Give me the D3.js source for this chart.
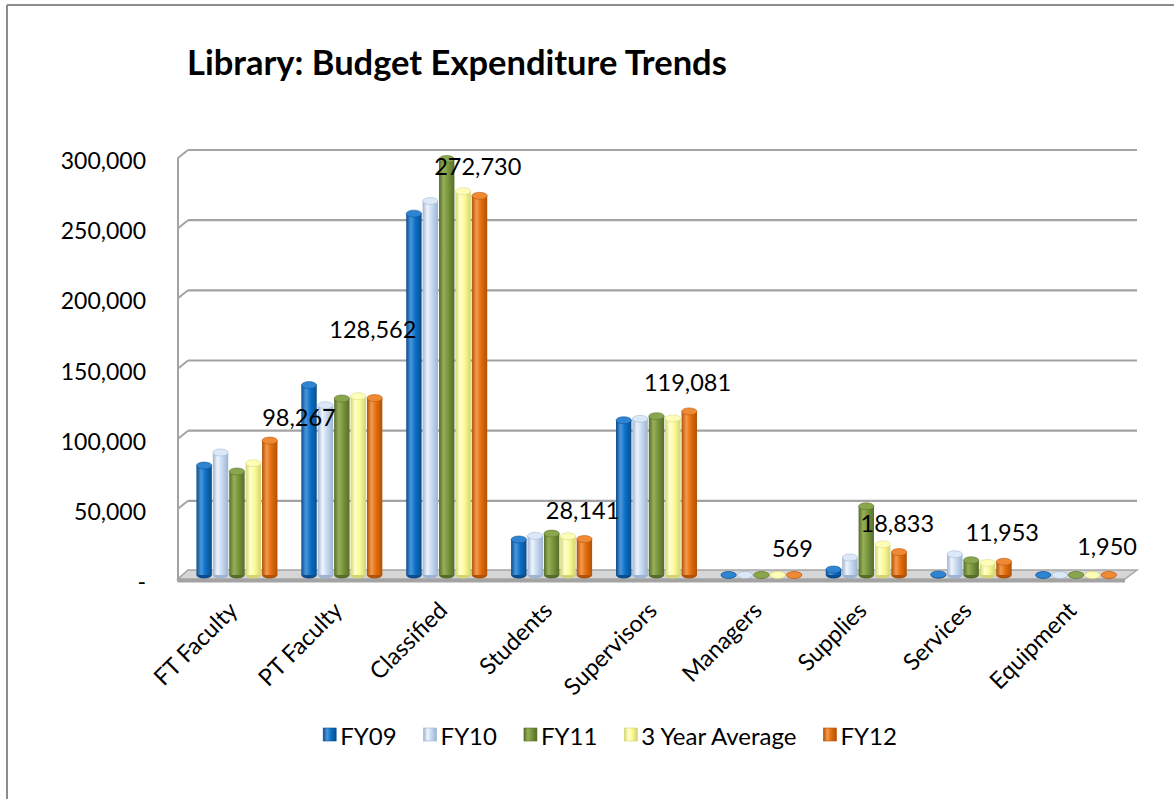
<!DOCTYPE html>
<html>
<head>
<meta charset="utf-8">
<script src="https://cdn.jsdelivr.net/npm/d3@7"></script>
<style>
  html, body { margin: 0; padding: 0; background: #ffffff; }
  svg { display: block; }
  text { font-family: Lato, "Open Sans", sans-serif; fill: #000; }
</style>
</head>
<body>
<div id="chart"></div>
<script>
// ---------------- data ----------------
const categories = ["FT Faculty", "PT Faculty", "Classified", "Students", "Supervisors",
                    "Managers", "Supplies", "Services", "Equipment"];
const seriesNames = ["FY09", "FY10", "FY11", "3 Year Average", "FY12"];
const fy09 = [80500, 137800, 260000, 27800, 112800, 400, 6400, 2900, 300];
const fy10 = [89800, 123500, 269000, 30400, 113800, 300, 15000, 17300, 200];
const fy11 = [76300, 128300, 299000, 32000, 115700, 200, 51500, 13000, 400];
const avg3 = [82200, 129900, 276000, 30100, 114100, 300, 24300, 11100, 300];
const fy12 = [98267, 128562, 272730, 28141, 119081, 569, 18833, 11953, 1950];
const yTicks = [0, 50000, 100000, 150000, 200000, 250000, 300000];
const titleText = "Library: Budget Expenditure Trends";
// data labels show the FY12 value of each category
const labelValues = fy12;

// ---------------- styling ----------------
const seriesColors = [
  {base: "#0b6fc6", dark: "#0a4d8c", light: "#4a97db", cap: "#2f84d2"},
  {base: "#c6d9f1", dark: "#9db3cf", light: "#eef4fc", cap: "#dce8f7"},
  {base: "#78943c", dark: "#566d29", light: "#96b058", cap: "#8aa64c"},
  {base: "#fafa96", dark: "#d4d474", light: "#ffffcc", cap: "#fdfdb8"},
  {base: "#e46c0a", dark: "#b05207", light: "#f39a4e", cap: "#ef8a34"}
];
const labelNudge = {"FT Faculty": [31, 6], "PT Faculty": [0, -40]};

const W = 1174, H = 799;
const seriesValues = [fy09, fy10, fy11, avg3, fy12];

const svg = d3.select("#chart").append("svg").attr("width", W).attr("height", H);
const defs = svg.append("defs");

// scales
const yBack = d3.scaleLinear().domain([0, 300000]).range([571, 150]);
const depthFront = 8, depthMid = 4, sideShift = 10;
const yBar = v => yBack(v) + depthMid;
const yFront = v => yBack(v) + depthFront;
const x0 = d3.scaleBand().domain(categories).range([184.5, 1128.5]);
const groupW = 82;
const x1 = d3.scaleBand().domain(seriesNames).range([0, groupW]);
const backLeft = 188, backRight = 1137;

// chart frame
svg.append("line").attr("x1", 7).attr("y1", 5).attr("x2", 7).attr("y2", H)
  .attr("stroke", "#8c8c8c").attr("stroke-width", 2);
svg.append("line").attr("x1", 7).attr("y1", 5).attr("x2", W).attr("y2", 5)
  .attr("stroke", "#8c8c8c").attr("stroke-width", 2);

// title
svg.append("text").attr("x", 187).attr("y", 75)
  .attr("font-size", 34.5).attr("font-weight", 700).text(titleText);

// gridlines on back wall + left wall stubs
const grid = svg.append("g");
yTicks.forEach(t => {
  if (t > 0) {
    grid.append("line").attr("x1", backLeft).attr("x2", backRight)
      .attr("y1", yBack(t)).attr("y2", yBack(t))
      .attr("stroke", "#a3a3a3").attr("stroke-width", 2.2);
  }
  grid.append("line").attr("x1", backLeft - sideShift).attr("y1", yFront(t))
    .attr("x2", backLeft).attr("y2", yBack(t))
    .attr("stroke", "#a3a3a3").attr("stroke-width", 2);
});
grid.append("line").attr("x1", backLeft - sideShift).attr("x2", backLeft - sideShift)
  .attr("y1", yFront(300000)).attr("y2", yFront(0) + 3)
  .attr("stroke", "#a3a3a3").attr("stroke-width", 2);

// floor
const floorTop = [[backLeft - sideShift, yFront(0)], [backLeft, yBack(0) - 1],
                  [backRight, yBack(0) - 1], [backRight - 12, yFront(0)]];
svg.append("polygon").attr("points", floorTop.map(p => p.join(",")).join(" "))
  .attr("fill", "#d6d6d6").attr("stroke", "#a6a6a6").attr("stroke-width", 1.5);
svg.append("rect").attr("x", backLeft - sideShift).attr("y", yFront(0))
  .attr("width", backRight - 12 - (backLeft - sideShift)).attr("height", 3.5)
  .attr("fill", "#a3a3a3");

// gradients
seriesColors.forEach((c, i) => {
  const g = defs.append("linearGradient").attr("id", "grad" + i)
    .attr("x1", "0%").attr("x2", "100%").attr("y1", "0%").attr("y2", "0%");
  g.append("stop").attr("offset", "0%").attr("stop-color", c.dark);
  g.append("stop").attr("offset", "30%").attr("stop-color", c.light);
  g.append("stop").attr("offset", "60%").attr("stop-color", c.base);
  g.append("stop").attr("offset", "100%").attr("stop-color", c.dark);
});

// bars (cylinders)
const ry = 3.5;
const barsG = svg.append("g");
categories.forEach((cat, ci) => {
  const gx = x0(cat) + (x0.bandwidth() - groupW) / 2;
  seriesNames.forEach((s, si) => {
    const v = seriesValues[si][ci];
    const bx = gx + x1(s) + 0.5;
    const bw = x1.bandwidth() - 1;
    const cx = bx + bw / 2;
    const top = yBar(v) + ry;
    const base = yBar(0);
    const g = barsG.append("g");
    g.append("ellipse").attr("cx", cx).attr("cy", base).attr("rx", bw / 2).attr("ry", ry)
      .attr("fill", seriesColors[si].dark);
    if (base > top) {
      g.append("rect").attr("x", bx).attr("y", top).attr("width", bw).attr("height", base - top)
        .attr("fill", "url(#grad" + si + ")");
    }
    g.append("ellipse").attr("cx", cx).attr("cy", Math.min(top, base)).attr("rx", bw / 2).attr("ry", ry)
      .attr("fill", seriesColors[si].cap).attr("stroke", seriesColors[si].dark).attr("stroke-width", 0.5);
  });
});

// data labels
categories.forEach((cat, ci) => {
  const n = labelNudge[cat] || [0, 0];
  const cx = x0(cat) + x0.bandwidth() / 2 + 31 + n[0];
  const cy = yBar(labelValues[ci]) - 26 + n[1];
  svg.append("text").attr("x", cx).attr("y", cy).attr("text-anchor", "middle")
    .attr("dominant-baseline", "central").attr("font-size", 23.5)
    .text(d3.format(",")(labelValues[ci]));
});

// y-axis labels
yTicks.forEach(t => {
  svg.append("text").attr("x", 146).attr("y", yFront(t) + 2)
    .attr("text-anchor", "end").attr("dominant-baseline", "central").attr("font-size", 23)
    .text(t === 0 ? "-" : d3.format(",")(t));
});

// x-axis labels
categories.forEach(cat => {
  const cx = x0(cat) + x0.bandwidth() / 2 + 2;
  const cy = 612;
  svg.append("text").attr("transform", `translate(${cx},${cy}) rotate(-45)`)
    .attr("text-anchor", "end").attr("font-size", 23.5).text(cat);
});

// legend
const legend = svg.append("g");
const items = seriesNames.map((s, i) => {
  const g = legend.append("g");
  g.append("rect").attr("x", 0).attr("y", -7).attr("width", 13).attr("height", 13)
    .attr("fill", "url(#grad" + i + ")").attr("stroke", seriesColors[i].dark).attr("stroke-width", 0.6);
  const t = g.append("text").attr("x", 17).attr("y", 0).attr("dominant-baseline", "central")
    .attr("font-size", 24).text(s);
  return {g, w: 17 + t.node().getComputedTextLength()};
});
const gap = 27;
const total = d3.sum(items, d => d.w) + gap * (items.length - 1);
let lx = 610 - total / 2;
items.forEach(it => { it.g.attr("transform", `translate(${lx},735)`); lx += it.w + gap; });
</script>
</body>
</html>
